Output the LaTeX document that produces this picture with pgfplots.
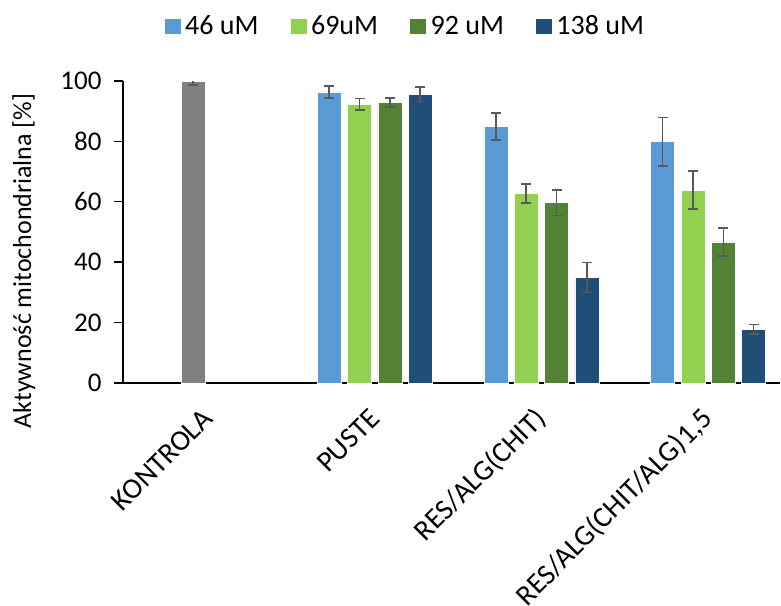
\documentclass[border=0pt]{standalone}
\usepackage{pgfplots}
\pgfplotsset{compat=1.18}
\usepackage{fontspec}
\setmainfont{Carlito}
\definecolor{c46}{HTML}{5B9BD5}
\definecolor{c69}{HTML}{92D050}
\definecolor{c92}{HTML}{548235}
\definecolor{c138}{HTML}{1F4E79}
\definecolor{cgr}{HTML}{808080}
\definecolor{cerr}{HTML}{595959}
\pgfplotsset{myerr/.style={
    error bars/y dir=both, error bars/y explicit,
    error bars/error bar style={cerr, line width=1.6pt},
    error bars/error mark options={cerr, rotate=90, mark size=5pt, line width=1.6pt}}}
\begin{document}
\begin{tikzpicture}
\begin{axis}[
  scale only axis,
  width=657pt, height=302pt,
  xmin=-0.51, xmax=3.431,
  ymin=0, ymax=100,
  clip=false,
  axis x line*=bottom,
  axis y line*=left,
  axis line style={black, line width=1.6pt},
  xtick={0,1,2,3},
  xticklabels={KONTROLA,PUSTE,RES/ALG(CHIT),RES/ALG(CHIT/ALG)1{,}5},
  xtick style={draw=none},
  xticklabel style={xshift=0pt, yshift=-22pt, rotate=45, anchor=east, inner sep=0pt, font=\fontsize{29}{32}\selectfont},
  ytick={0,20,40,60,80,100},
  ytick style={black, line width=1.4pt},
  tick align=outside,
  major tick length=9pt,
  yticklabel style={font=\fontsize{27}{30}\selectfont, xshift=-9pt},
  /pgf/number format/assume math mode=true,
  ylabel={Aktywność mitochondrialna [\%]},
  ylabel style={at={(rel axis cs:-0.151,0.404)}, anchor=center, font=\fontsize{26}{30}\selectfont},
  legend style={at={(rel axis cs:0.429,1.182)}, anchor=center, draw=none, fill=none,
    legend columns=4, font=\fontsize{28}{32}\selectfont,
    /tikz/every even column/.append style={column sep=29pt},
    /tikz/every odd column/.append style={column sep=2pt}},
  legend image code/.code={\fill[#1] (0pt,-8pt) rectangle (17pt,8pt);},
]
\addplot[ybar, bar width=0.144, fill=c46, draw=white, line width=0.5pt, myerr]
  coordinates {(0.727,96.4) +- (0,2.0) (1.727,84.9) +- (0,4.5) (2.727,79.9) +- (0,8.0)};
\addlegendentry{46 uM}
\addplot[ybar, bar width=0.144, fill=c69, draw=white, line width=0.5pt, myerr]
  coordinates {(0.909,92.3) +- (0,1.9) (1.909,62.7) +- (0,3.1) (2.909,63.9) +- (0,6.3)};
\addlegendentry{69uM}
\addplot[ybar, bar width=0.144, fill=c92, draw=white, line width=0.5pt, myerr]
  coordinates {(1.091,92.9) +- (0,1.5) (2.091,59.7) +- (0,4.3) (3.091,46.7) +- (0,4.7)};
\addlegendentry{92 uM}
\addplot[ybar, bar width=0.144, fill=c138, draw=white, line width=0.5pt, myerr]
  coordinates {(1.273,95.6) +- (0,2.4) (2.273,34.9) +- (0,5.0) (3.273,17.8) +- (0,1.6)};
\addlegendentry{138 uM}
\addplot[ybar, bar width=0.144, fill=cgr, draw=white, line width=0.5pt, forget plot, myerr, error bars/y dir=minus]
  coordinates {(-0.091,100) -= (0,1.3)};
\coordinate (bl) at (rel axis cs:0,0);
\coordinate (tr) at (rel axis cs:1,1);
\end{axis}
\pgfresetboundingbox
\path ([shift={(-123pt,-223pt)}]bl) rectangle ([shift={(1pt,81pt)}]tr);
\end{tikzpicture}
\end{document}
